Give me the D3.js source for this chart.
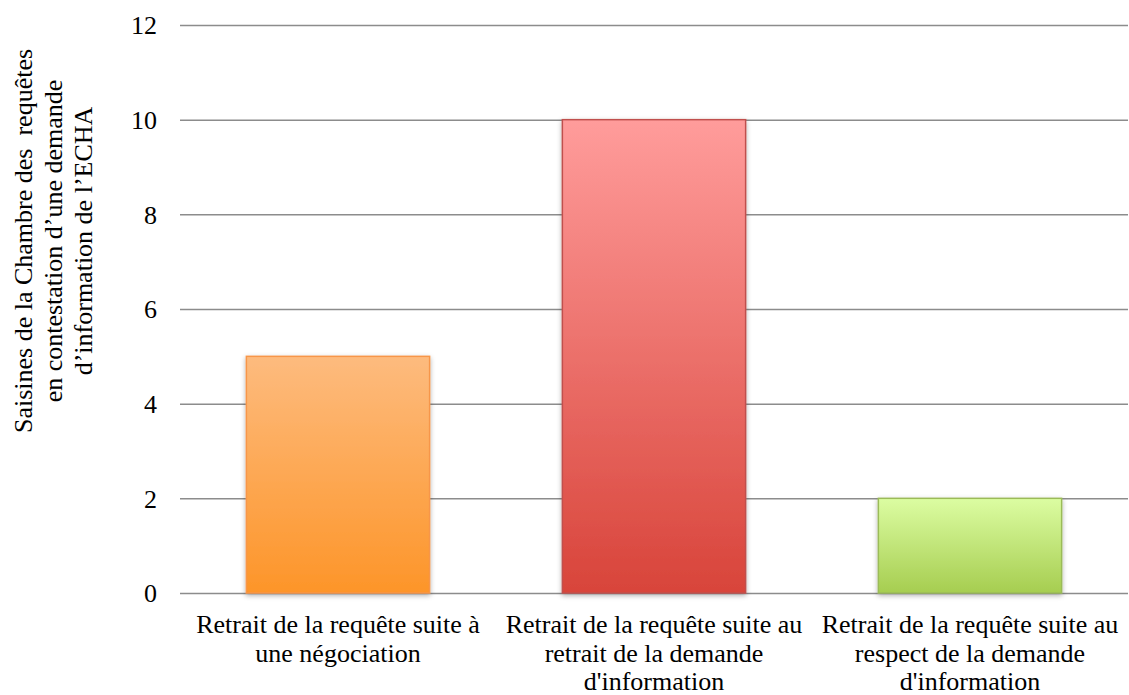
<!DOCTYPE html>
<html>
<head>
<meta charset="utf-8">
<script src="https://cdn.jsdelivr.net/npm/d3@7"></script>
<style>
  body { margin: 0; background: #fff; }
  text { font-family: "Liberation Serif", "Times New Roman", serif; fill: #000; }
</style>
</head>
<body>
<script>
// data
const categories = [
  ["Retrait de la requête suite à", "une négociation"],
  ["Retrait de la requête suite au", "retrait de la demande", "d'information"],
  ["Retrait de la requête suite au", "respect de la demande", "d'information"]
];
const values = [5, 10, 2];
const yTicks = [0, 2, 4, 6, 8, 10, 12];
const yTitle = ["Saisines de la Chambre des  requêtes", "en contestation d\u2019une demande", "d\u2019information de l\u2019ECHA"];

const barColors = [
  { top: "#fdbb7e", bottom: "#fd9529", stroke: "#f7964a" },
  { top: "#ff9c9b", bottom: "#d8443a", stroke: "#c0504d" },
  { top: "#dcfda2", bottom: "#a6cd50", stroke: "#9bbb59" }
];

const W = 1129, H = 695;
const margin = { top: 25, left: 180, right: 1, bottom: 102 };
const width = W - margin.left - margin.right;
const height = H - margin.top - margin.bottom;
const fontSize = "26px";

const svg = d3.select("body").append("svg")
  .attr("width", W)
  .attr("height", H);

const defs = svg.append("defs");
barColors.forEach(function (c, i) {
  const g = defs.append("linearGradient")
    .attr("id", "grad" + i)
    .attr("x1", 0).attr("y1", 0).attr("x2", 0).attr("y2", 1);
  g.append("stop").attr("offset", "0%").attr("stop-color", c.top);
  g.append("stop").attr("offset", "100%").attr("stop-color", c.bottom);
});
const shadow = defs.append("filter").attr("id", "shadow")
  .attr("x", "-10%").attr("y", "-10%").attr("width", "120%").attr("height", "120%");
shadow.append("feDropShadow")
  .attr("dx", 0).attr("dy", 2).attr("stdDeviation", 2.5)
  .attr("flood-color", "#000").attr("flood-opacity", 0.3);

const g = svg.append("g").attr("transform", `translate(${margin.left}, ${margin.top})`);

const x = d3.scaleBand()
  .domain(d3.range(values.length))
  .range([0, width])
  .paddingInner(0.42)
  .paddingOuter(0.21);

const y = d3.scaleLinear()
  .domain([0, 12])
  .range([height, 0]);

// gridlines + tick labels
const yAxis = g.append("g")
  .call(d3.axisLeft(y).tickValues(yTicks).tickSize(-width).tickFormat(d3.format("d")));
yAxis.select(".domain").remove();
yAxis.selectAll(".tick line")
  .attr("stroke", "#8c8c8c")
  .attr("stroke-width", 1.5);
yAxis.selectAll(".tick text")
  .attr("x", -23)
  .attr("dy", "0.34em")
  .style("font-size", fontSize)
  .style("font-family", "'Liberation Serif', serif")
  .attr("fill", "#000");

// bars
g.selectAll("rect.bar")
  .data(values)
  .enter().append("rect")
  .attr("class", "bar")
  .attr("x", (d, i) => x(i))
  .attr("y", d => y(d))
  .attr("width", x.bandwidth())
  .attr("height", d => height - y(d))
  .attr("fill", (d, i) => `url(#grad${i})`)
  .attr("stroke", (d, i) => barColors[i].stroke)
  .attr("stroke-width", 1.5)
  .attr("filter", "url(#shadow)");

// category labels
const labels = g.selectAll("text.cat")
  .data(categories)
  .enter().append("text")
  .attr("class", "cat")
  .attr("text-anchor", "middle")
  .attr("x", (d, i) => x(i) + x.bandwidth() / 2)
  .attr("y", height + 40)
  .style("font-size", fontSize);
labels.selectAll("tspan")
  .data(d => d)
  .enter().append("tspan")
  .attr("x", function () { return this.parentNode.getAttribute("x"); })
  .attr("dy", (d, i) => i === 0 ? 0 : 28.5)
  .text(d => d);

// y axis title
const title = svg.append("text")
  .attr("transform", "translate(32, 241) rotate(-90)")
  .attr("text-anchor", "middle")
  .attr("xml:space", "preserve")
  .style("font-size", fontSize);
title.selectAll("tspan")
  .data(yTitle)
  .enter().append("tspan")
  .attr("x", 0)
  .attr("dy", (d, i) => i === 0 ? 0 : 30)
  .style("white-space", "pre")
  .text(d => d);
</script>
</body>
</html>
